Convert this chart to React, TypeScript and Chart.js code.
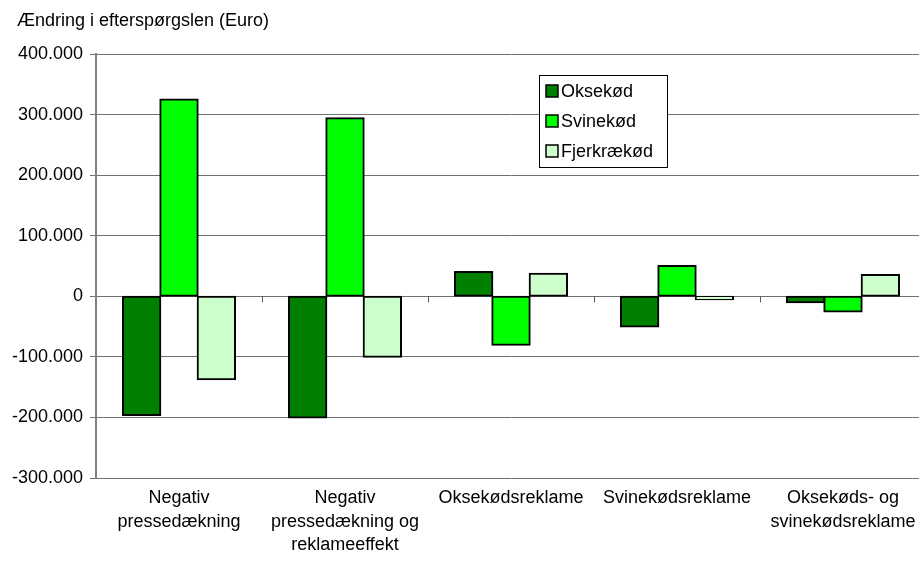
import React, { useEffect, useRef } from 'react';
import { Chart, registerables } from 'chart.js';

Chart.register(...registerables);

const titleText = 'Ændring i efterspørgslen (Euro)';
const categories: (string | string[])[] = [
  ['Negativ', 'pressedækning'],
  ['Negativ', 'pressedækning og', 'reklameeffekt'],
  'Oksekødsreklame',
  'Svinekødsreklame',
  ['Oksekøds- og', 'svinekødsreklame'],
];
const seriesNames = ['Oksekød', 'Svinekød', 'Fjerkrækød'];
const oksekod = [-196000, -200000, 40000, -50000, -10000];
const svinekod = [325000, 294000, -80000, 50000, -25000];
const fjerkraekod = [-137000, -100000, 37000, -5000, 35000];
const seriesColors = ['#008000', '#00FF00', '#CCFFCC'];
const yMin = -300000;
const yMax = 400000;
const yStep = 100000;

const FONT = '"Liberation Sans", Arial, sans-serif';

function fmt(v: number): string {
  if (v === 0) return '0';
  const s = Math.abs(v).toString().replace(/\B(?=(\d{3})+(?!\d))/g, '.');
  return (v < 0 ? '-' : '') + s;
}

const decorPlugin = {
  id: 'decor',
  afterDraw(chart: any) {
    const ctx = chart.ctx as CanvasRenderingContext2D;
    const xs = chart.scales.x;
    const ys = chart.scales.y;
    ctx.save();
    // category tick marks on zero line
    const y0 = ys.getPixelForValue(0);
    ctx.strokeStyle = '#555';
    ctx.lineWidth = 1;
    for (let i = 1; i < categories.length; i++) {
      const x = Math.round((xs.getPixelForValue(i - 1) + xs.getPixelForValue(i)) / 2) + 0.5;
      ctx.beginPath();
      ctx.moveTo(x, y0);
      ctx.lineTo(x, y0 + 6);
      ctx.stroke();
    }
    // title
    ctx.fillStyle = '#000';
    ctx.font = `18px ${FONT}`;
    ctx.textBaseline = 'middle';
    ctx.textAlign = 'left';
    ctx.fillText(titleText, 17, 21);
    // legend
    const bx = 539.5, by = 75.5, bw = 128, bh = 92;
    ctx.fillStyle = '#fff';
    ctx.fillRect(bx, by, bw, bh);
    ctx.strokeStyle = '#000';
    ctx.lineWidth = 1;
    ctx.strokeRect(bx, by, bw, bh);
    chart.data.datasets.forEach((ds: any, i: number) => {
      const cy = 91 + i * 30;
      ctx.fillStyle = ds.backgroundColor;
      ctx.fillRect(546, cy - 6, 12, 12);
      ctx.strokeStyle = '#000';
      ctx.lineWidth = 1.5;
      ctx.strokeRect(546, cy - 6, 12, 12);
      ctx.fillStyle = '#000';
      ctx.font = `18px ${FONT}`;
      ctx.fillText(ds.label, 561, cy + 1);
    });
    ctx.restore();
  },
};

export default function App() {
  const ref = useRef<HTMLCanvasElement>(null);
  useEffect(() => {
    if (!ref.current) return;
    const data = [oksekod, svinekod, fjerkraekod];
    const chart = new Chart(ref.current, {
      type: 'bar',
      data: {
        labels: categories,
        datasets: seriesNames.map((name, i) => ({
          label: name,
          data: data[i],
          backgroundColor: seriesColors[i],
          borderColor: '#000',
          borderWidth: 2,
          borderSkipped: false,
          inflateAmount: 1,
          categoryPercentage: 0.675,
          barPercentage: 1,
        })),
      },
      options: {
        responsive: false,
        animation: false,
        devicePixelRatio: 1,
        layout: { padding: { top: 54, left: 0, right: 4, bottom: 0 } },
        plugins: {
          legend: { display: false },
          title: { display: false },
          tooltip: { enabled: false },
        },
        scales: {
          x: {
            grid: { display: false, drawTicks: false },
            border: { display: false },
            ticks: {
              color: '#000',
              font: { family: FONT, size: 18, lineHeight: 1.28 },
              padding: 9,
              maxRotation: 0,
              autoSkip: false,
            },
            afterFit(s: any) {
              s.height = 83;
            },
          },
          y: {
            min: yMin,
            max: yMax,
            grid: { color: '#707070', lineWidth: 1, tickLength: 6, drawTicks: true },
            border: { display: true, color: '#808080', width: 2 },
            ticks: {
              stepSize: yStep,
              color: '#000',
              font: { family: FONT, size: 18 },
              padding: 7,
              callback: (v: any) => fmt(Number(v)),
            },
            afterFit(s: any) {
              s.width = 96;
            },
          },
        },
      },
      plugins: [decorPlugin],
    });
    return () => chart.destroy();
  }, []);
  return (
    <div style={{ position: 'fixed', left: 0, top: 0, width: 919, height: 561, overflow: 'hidden', background: '#fff' }}>
      <canvas ref={ref} width={930} height={561} style={{ display: 'block', width: 930, height: 561 }} />
    </div>
  );
}
